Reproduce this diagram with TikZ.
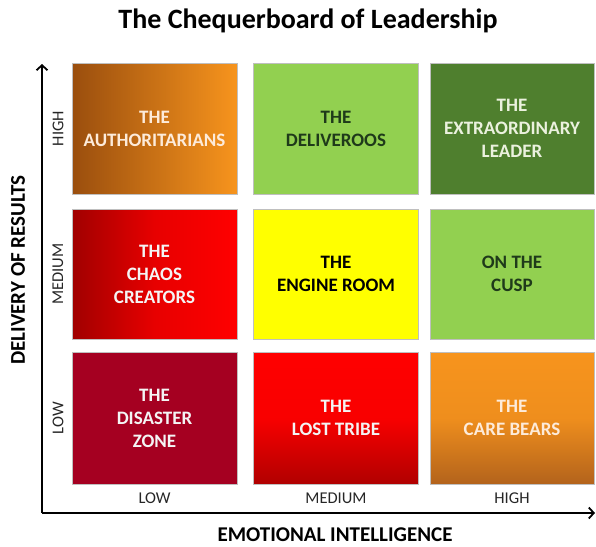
\documentclass[tikz,border=0pt]{standalone}
\usepackage{fontspec}
\setmainfont{Carlito}
\usetikzlibrary{arrows.meta}
\definecolor{orA}{HTML}{9A4E0E}
\definecolor{orB}{HTML}{F7941D}
\definecolor{lgreen}{HTML}{92D050}
\definecolor{dgreen}{HTML}{4F7F2E}
\definecolor{redA}{HTML}{A00000}
\definecolor{redB}{HTML}{FF0000}
\definecolor{redC}{HTML}{B00000}
\definecolor{yel}{HTML}{FFFF00}
\definecolor{crim}{HTML}{A50021}
\definecolor{orC}{HTML}{B3631C}
\definecolor{txtgreen}{HTML}{1F3A1A}
\definecolor{cream}{HTML}{FDEBDA}
\definecolor{palegreen}{HTML}{EBF1DE}
\definecolor{offwhite}{HTML}{F4F4F4}
\begin{document}
\begin{tikzpicture}[x=1pt,y=-1pt,
  cell/.style={rectangle, inner sep=0pt, minimum width=165pt, minimum height=131pt,
    draw=black!25, line width=0.7pt, align=center,
    font=\fontsize{19}{23}\selectfont\bfseries},
  ticklab/.style={font=\fontsize{16.5}{19}\selectfont, text=black!85},
  axislab/.style={inner sep=0pt, font=\fontsize{21}{25}\selectfont\bfseries},
  axisline/.style={line width=1.8pt, -{Straight Barb[length=5pt,width=11pt,line width=1.8pt]}}]
\useasboundingbox (0,0) rectangle (596,546);
\node (title) at (308,21) {\fontsize{28}{32}\selectfont\bfseries The Chequerboard of Leadership};
% row 1
\node[cell, left color=orA, right color=orB, text=cream] (auth) at (154.5,128.5) {THE\\AUTHORITARIANS};
\node[cell, fill=lgreen, text=txtgreen] (deliv) at (336,128.5) {THE\\DELIVEROOS};
\node[cell, fill=dgreen, text=palegreen, minimum width=164pt] (extra) at (512,128.5) {THE\\EXTRAORDINARY\\LEADER};
% row 2
\node[cell, left color=redA, right color=redB, middle color=redB!75!redA, text=offwhite, minimum height=130pt] (chaos) at (154.5,274) {THE\\CHAOS\\CREATORS};
\node[cell, fill=yel, text=black, minimum height=130pt] (engine) at (336,274) {THE\\ENGINE ROOM};
\node[cell, fill=lgreen, text=txtgreen, minimum width=164pt, minimum height=130pt] (cusp) at (512,274) {ON THE\\CUSP};
% row 3
\node[cell, fill=crim, text=offwhite, minimum height=132pt] (disaster) at (154.5,418) {THE\\DISASTER\\ZONE};
\node[cell, top color=redB, bottom color=redC, middle color=redB!92!redC, text=offwhite, minimum height=132pt] (lost) at (336,418) {THE\\LOST TRIBE};
\node[cell, top color=orB, bottom color=orC, middle color=orB!88!orC, text=cream, minimum width=164pt, minimum height=132pt] (care) at (512,418) {THE\\CARE BEARS};
% axes
\coordinate (origin) at (42,513);
\coordinate (ytip) at (42,64);
\coordinate (xtip) at (595,513);
\draw[axisline] (origin) -- (ytip);
\draw[axisline] (origin) -- (xtip);
% tick labels
\node[ticklab, rotate=90] (yhigh) at (58,128.5) {HIGH};
\node[ticklab, rotate=90] (ymed) at (58,274) {MEDIUM};
\node[ticklab, rotate=90] (ylow) at (58,418) {LOW};
\node[ticklab] (xlow) at (154.5,498) {LOW};
\node[ticklab] (xmed) at (336,498) {MEDIUM};
\node[ticklab] (xhigh) at (512,498) {HIGH};
% axis labels
\node[axislab] (xlab) at (335,535) {EMOTIONAL INTELLIGENCE};
\node[axislab, rotate=90] (ylab) at (18,270) {DELIVERY OF RESULTS};
\end{tikzpicture}
\end{document}
